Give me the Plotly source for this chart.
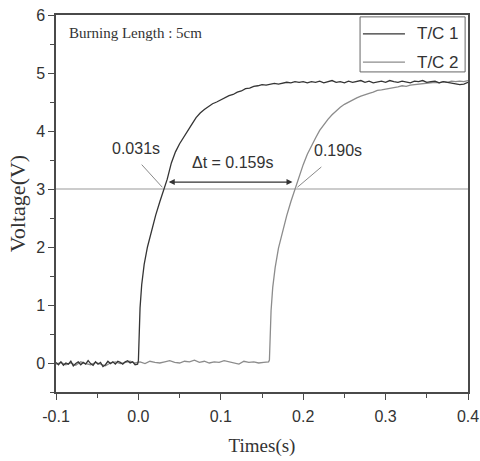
import plotly.graph_objects as go

# Thermocouple response, burning length 5 cm
tc1_time = [-0.100, -0.097, -0.094, -0.091, -0.088, -0.085, -0.082, -0.079, -0.076, -0.073,
            -0.070, -0.067, -0.064, -0.061, -0.058, -0.055, -0.052, -0.049, -0.046, -0.043,
            -0.040, -0.037, -0.034, -0.031, -0.028, -0.025, -0.022, -0.019, -0.016, -0.013,
            -0.010, -0.007, -0.004, -0.001,
            0.000, 0.001, 0.002, 0.004, 0.007, 0.011, 0.016, 0.021, 0.026, 0.031,
            0.035, 0.040, 0.045, 0.050, 0.055, 0.060, 0.065, 0.070, 0.075, 0.080,
            0.085, 0.090, 0.095, 0.100, 0.105, 0.110, 0.115, 0.120, 0.125, 0.130,
            0.135, 0.140, 0.145, 0.150, 0.155, 0.160, 0.165, 0.170, 0.175, 0.180,
            0.185, 0.190, 0.195, 0.200,
            0.205, 0.210, 0.215, 0.220, 0.225, 0.230, 0.235, 0.240, 0.245, 0.250,
            0.255, 0.260, 0.265, 0.270, 0.275, 0.280, 0.285, 0.290, 0.295, 0.300,
            0.305, 0.310, 0.315, 0.320, 0.325, 0.330, 0.335, 0.340, 0.345, 0.350,
            0.355, 0.360, 0.365, 0.370, 0.375, 0.380, 0.385, 0.390, 0.395, 0.400]
tc1_volt = [0.01, -0.03, 0.02, -0.04, 0.00, -0.02, 0.03, -0.05, -0.01, 0.02,
            -0.03, 0.01, -0.02, 0.04, -0.01, -0.04, 0.02, -0.02, 0.01, -0.06,
            -0.03, 0.03, -0.01, 0.02, -0.02, 0.03, 0.01, -0.02, 0.02, 0.04,
            0.00, 0.02, -0.03, -0.02,
            0.04, 0.55, 0.95, 1.35, 1.70, 2.00, 2.30, 2.55, 2.78, 3.00,
            3.17, 3.45, 3.64, 3.78, 3.90, 4.02, 4.12, 4.23, 4.31, 4.37,
            4.42, 4.47, 4.50, 4.54, 4.57, 4.61, 4.63, 4.67, 4.69, 4.73,
            4.74, 4.77, 4.78, 4.80, 4.79, 4.81, 4.82, 4.81, 4.83, 4.84,
            4.83, 4.85, 4.84, 4.85,
            4.83, 4.85, 4.84, 4.86, 4.83, 4.85, 4.87, 4.84, 4.85, 4.83,
            4.86, 4.84, 4.85, 4.87, 4.84, 4.86, 4.83, 4.85, 4.86, 4.84,
            4.87, 4.85, 4.84, 4.86, 4.85, 4.83, 4.86, 4.85, 4.87, 4.84,
            4.85, 4.86, 4.83, 4.85, 4.84, 4.83, 4.81, 4.80, 4.81, 4.84]

tc2_time = [-0.100, -0.094, -0.088, -0.082, -0.076, -0.070, -0.064, -0.058, -0.052, -0.046,
            -0.040, -0.034, -0.028, -0.022, -0.016, -0.010, -0.004, 0.002, 0.008, 0.014,
            0.020, 0.026, 0.032, 0.038, 0.044, 0.050, 0.056, 0.062, 0.068, 0.074,
            0.080, 0.086, 0.092, 0.098, 0.104, 0.110, 0.116, 0.122, 0.128, 0.134,
            0.140, 0.146, 0.152, 0.158,
            0.159, 0.160, 0.161, 0.163, 0.166, 0.170, 0.175, 0.180, 0.185, 0.190,
            0.195, 0.200, 0.205, 0.210, 0.215, 0.220, 0.225, 0.230, 0.235, 0.240,
            0.245, 0.250, 0.255, 0.260, 0.265, 0.270, 0.275, 0.280, 0.285, 0.290,
            0.295, 0.300, 0.305, 0.310, 0.315, 0.320, 0.325, 0.330, 0.335, 0.340,
            0.345, 0.350, 0.355, 0.360, 0.365, 0.370, 0.375, 0.380, 0.385, 0.390,
            0.395, 0.400]
tc2_volt = [-0.02, 0.01, -0.03, 0.00, -0.04, 0.02, -0.01, -0.03, 0.01, -0.02,
            -0.05, 0.00, 0.02, -0.01, 0.01, 0.03, 0.00, 0.02, -0.01, 0.03,
            0.01, 0.00, 0.02, 0.04, 0.01, 0.00, 0.03, 0.02, 0.05, 0.01,
            0.03, 0.00, 0.02, 0.01, 0.04, 0.02, 0.00, -0.02, 0.03, 0.01,
            0.02, 0.00, 0.01, 0.02,
            0.05, 0.50, 0.90, 1.30, 1.65, 1.98, 2.28, 2.54, 2.78, 3.00,
            3.22, 3.42, 3.60, 3.75, 3.88, 4.01, 4.11, 4.20, 4.28, 4.35,
            4.41, 4.46, 4.50, 4.54, 4.57, 4.60, 4.63, 4.65, 4.67, 4.70,
            4.71, 4.72, 4.74, 4.75, 4.76, 4.78, 4.77, 4.79, 4.80, 4.81,
            4.82, 4.82, 4.83, 4.84, 4.83, 4.85, 4.84, 4.86, 4.85, 4.86,
            4.85, 4.87]

series_names = ["T/C 1", "T/C 2"]
series_colors = ["#353535", "#8c8c8c"]

threshold = 3.0        # V, reference level for arrival time
t_arrive_1 = 0.031     # s, T/C 1 crosses threshold
t_arrive_2 = 0.190     # s, T/C 2 crosses threshold
delta_t = round(t_arrive_2 - t_arrive_1, 3)

x_ticks = [-0.1, 0.0, 0.1, 0.2, 0.3, 0.4]
x_tick_text = ["-0.1", "0.0", "0.1", "0.2", "0.3", "0.4"]
y_ticks = [0, 1, 2, 3, 4, 5, 6]

SANS = "Liberation Sans, Arial, sans-serif"
SERIF = "Liberation Serif, Times New Roman, serif"
AXIS_COLOR = "#4a4a4a"
TEXT_COLOR = "#333333"

fig = go.Figure()
fig.add_trace(go.Scatter(x=tc2_time, y=tc2_volt, mode="lines", name=series_names[1],
                         line=dict(color=series_colors[1], width=1.3), showlegend=False))
fig.add_trace(go.Scatter(x=tc1_time, y=tc1_volt, mode="lines", name=series_names[0],
                         line=dict(color=series_colors[0], width=1.3), showlegend=False))

# threshold level across the plot
fig.add_shape(type="line", xref="paper", x0=0, x1=1, yref="y", y0=threshold, y1=threshold,
              line=dict(color="#999999", width=1.2), layer="below")

# leader lines from labels to the crossing points
fig.add_shape(type="line", x0=0.004, y0=3.42, x1=t_arrive_1 - 0.002, y1=threshold + 0.03,
              line=dict(color="#8a8a8a", width=1))
fig.add_shape(type="line", x0=0.222, y0=3.38, x1=t_arrive_2 + 0.003, y1=threshold + 0.03,
              line=dict(color="#8a8a8a", width=1))

# double-headed arrow for the time difference
fig.add_annotation(x=t_arrive_2 - 0.003, y=3.12, ax=t_arrive_1 + 0.004, ay=3.12,
                   xref="x", yref="y", axref="x", ayref="y", text="",
                   showarrow=True, arrowhead=2, startarrowhead=2, arrowside="end+start",
                   arrowsize=1, arrowwidth=1.2, arrowcolor="#333333")

label_font = dict(family=SANS, size=16, color=TEXT_COLOR)
fig.add_annotation(x=-0.003, y=3.70, text=f"{t_arrive_1:.3f}s", showarrow=False,
                   font=label_font)
fig.add_annotation(x=0.242, y=3.67, text=f"{t_arrive_2:.3f}s", showarrow=False,
                   font=label_font)
fig.add_annotation(x=0.1136, y=3.46, text=f"\u0394t = {delta_t:.3f}s", showarrow=False,
                   font=label_font)

fig.add_annotation(xref="paper", yref="paper", x=0.027, y=0.952, xanchor="left",
                   yanchor="middle", text="Burning Length : 5cm", showarrow=False,
                   font=dict(family=SERIF, size=15, color=TEXT_COLOR))

# legend box in the upper-right corner
fig.add_shape(type="rect", xref="paper", yref="paper", x0=0.738, x1=0.993, y0=0.849, y1=0.995,
              line=dict(color="#666666", width=1), fillcolor="white", layer="below")
legend_rows = [0.950, 0.875]
for name, color, yrow in zip(series_names, series_colors, legend_rows):
    fig.add_shape(type="line", xref="paper", yref="paper", x0=0.745, x1=0.847, y0=yrow, y1=yrow,
                  line=dict(color=color, width=1.3))
    fig.add_annotation(xref="paper", yref="paper", x=0.983, y=yrow, xanchor="right",
                       yanchor="middle", text=name, showarrow=False,
                       font=dict(family=SANS, size=17, color=TEXT_COLOR))

fig.update_layout(
    width=480, height=461,
    margin=dict(l=56, r=12, t=15, b=69, autoexpand=False),
    paper_bgcolor="white", plot_bgcolor="white",
    showlegend=False,
)

fig.update_xaxes(
    range=[-0.1, 0.4], tickvals=x_ticks, ticktext=x_tick_text,
    showgrid=False, zeroline=False, automargin=False,
    showline=True, linecolor=AXIS_COLOR, linewidth=1.5, mirror=True,
    ticks="outside", ticklen=6, tickwidth=1.2, tickcolor=AXIS_COLOR,
    minor=dict(dtick=0.05, ticks="outside", ticklen=4, tickcolor=AXIS_COLOR, showgrid=False),
    tickfont=dict(family=SANS, size=16, color=TEXT_COLOR), ticklabelstandoff=3,
    title=dict(text="Times(s)", font=dict(family=SERIF, size=19, color=TEXT_COLOR), standoff=15),
)
fig.update_yaxes(
    range=[-0.5, 6], tickvals=y_ticks,
    showgrid=False, zeroline=False, automargin=False,
    showline=True, linecolor=AXIS_COLOR, linewidth=1.5, mirror=True,
    ticks="outside", ticklen=6, tickwidth=1.2, tickcolor=AXIS_COLOR,
    minor=dict(dtick=0.5, ticks="outside", ticklen=4, tickcolor=AXIS_COLOR, showgrid=False),
    tickfont=dict(family=SANS, size=16, color=TEXT_COLOR),
    title=dict(text="Voltage(V)", font=dict(family=SERIF, size=22, color=TEXT_COLOR), standoff=4),
)

fig.write_html("out.html")
